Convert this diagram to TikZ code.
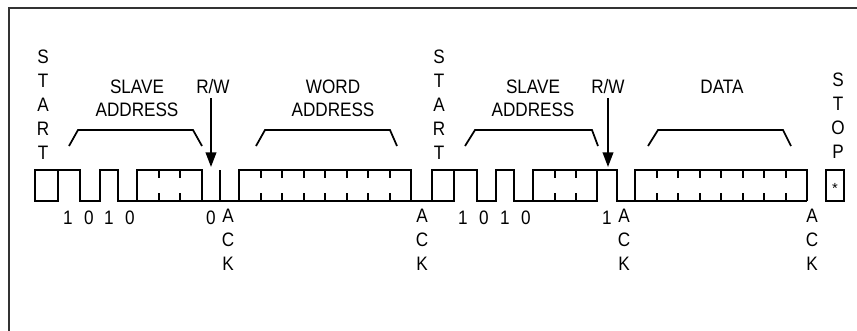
\documentclass[tikz,border=0pt]{standalone}
\usepackage{fontspec}
\setmainfont{Liberation Sans}
\usetikzlibrary{arrows.meta}
\definecolor{framegray}{HTML}{333333}
\begin{document}
\begin{tikzpicture}[x=0.75pt,y=-0.75pt,
  lbl/.style={inner sep=0pt,align=center,xscale=0.88,transform shape,font=\fontsize{14.6pt}{17.6pt}\selectfont},
  vlbl/.style={inner sep=0pt,align=center,xscale=0.88,transform shape,font=\fontsize{14.6pt}{18pt}\selectfont},
  wave/.style={line width=1.5pt,line join=miter,black},
  tickmark/.style={line width=1.5pt,black},
  brace/.style={line width=1.3pt,black},
  rwarrow/.style={line width=1.3pt,-{Triangle[width=8pt,length=11pt]}},
  frame/.style={line width=2pt,framegray}]
\useasboundingbox (0,0) rectangle (857,330);
% frame
\draw[frame] (9,331) -- (9,8) -- (858,8);

% ---- top labels ----
\node[vlbl] (start1) at (43,104.5) {S\\T\\A\\R\\T};
\node[vlbl] (start2) at (439,104.5) {S\\T\\A\\R\\T};
\node[vlbl] (stop) at (838,116) {S\\T\\O\\P};
\node[lbl] (slave1) at (137,98.5) {SLAVE\\ADDRESS};
\node[lbl] (word) at (333,98.5) {WORD\\ADDRESS};
\node[lbl] (slave2) at (533,98.5) {SLAVE\\ADDRESS};
\node[lbl] (rw1) at (213,87) {R/W};
\node[lbl] (rw2) at (608,87) {R/W};
\node[lbl] (data) at (722,87) {DATA};

% brackets
\draw[brace] (69,146) -- (78,130) -- (193,130) -- (202,146);
\draw[brace] (256,146) -- (265,130) -- (390,130) -- (397,146);
\draw[brace] (465,146) -- (475,130) -- (592,130) -- (598,146);
\draw[brace] (648,146) -- (658,130) -- (783,130) -- (791,146);

% R/W arrows
\coordinate (rwtip1) at (211,167);
\coordinate (rwtip2) at (608,167);
\draw[rwarrow] (rw1.south -| rwtip1) ++(0,4) -- (rwtip1);
\draw[rwarrow] (rw2.south -| rwtip2) ++(0,4) -- (rwtip2);

% ---- waveform, first part ----
\draw[wave] (35,170) rectangle (58,201);
\draw[wave] (58,170) -- (80,170) -- (80,201) -- (100,201) -- (100,170)
  -- (118,170) -- (118,201) -- (239,201) -- (239,170) -- (411,170)
  -- (411,201) -- (432,201);
\draw[wave] (137,201) -- (137,170) -- (202,170) -- (202,201);
\draw[wave] (220,170) -- (220,201);
\draw[wave] (239,201) -- (411,201);
\foreach \x in {159,180}{
  \draw[tickmark] (\x,170) -- (\x,178);
  \draw[tickmark] (\x,201) -- (\x,193);
}
\foreach \x in {260.5,282,303.5,325,346.5,368,389.5}{
  \draw[tickmark] (\x,170) -- (\x,178);
  \draw[tickmark] (\x,201) -- (\x,193);
}

% ---- waveform, second part ----
\draw[wave] (432,170) rectangle (454,201);
\draw[wave] (454,170) -- (477,170) -- (477,201) -- (496,201) -- (496,170)
  -- (514,170) -- (514,201) -- (597,201) -- (597,170);
\draw[wave] (533,201) -- (533,170) -- (617,170) -- (617,201) -- (807,201);
\draw[wave] (635,201) -- (635,170) -- (807,170) -- (807,201);
\foreach \x in {555,576}{
  \draw[tickmark] (\x,170) -- (\x,178);
  \draw[tickmark] (\x,201) -- (\x,193);
}
\foreach \x in {656.5,678,699.5,721,742.5,764,785.5}{
  \draw[tickmark] (\x,170) -- (\x,178);
  \draw[tickmark] (\x,201) -- (\x,193);
}
\draw[wave] (826,170) rectangle (844,201);
\node[inner sep=0pt,font=\fontsize{11pt}{12pt}\selectfont] (star) at (835,188) {*};

% ---- bottom labels ----
\node[lbl] (b1) at (68,218) {1};
\node[lbl] (b2) at (89,218) {0};
\node[lbl] (b3) at (109,218) {1};
\node[lbl] (b4) at (130,218) {0};
\node[lbl] (b5) at (211,218) {0};
\node[vlbl,anchor=north] (ack1) at (228,209) {A\\C\\K};
\node[vlbl,anchor=north] (ack2) at (422,209) {A\\C\\K};
\node[lbl] (c1) at (463,218) {1};
\node[lbl] (c2) at (484,218) {0};
\node[lbl] (c3) at (505,218) {1};
\node[lbl] (c4) at (526,218) {0};
\node[lbl] (c5) at (607,218) {1};
\node[vlbl,anchor=north] (ack3) at (624,209) {A\\C\\K};
\node[vlbl,anchor=north] (ack4) at (812,209) {A\\C\\K};
\end{tikzpicture}
\end{document}
